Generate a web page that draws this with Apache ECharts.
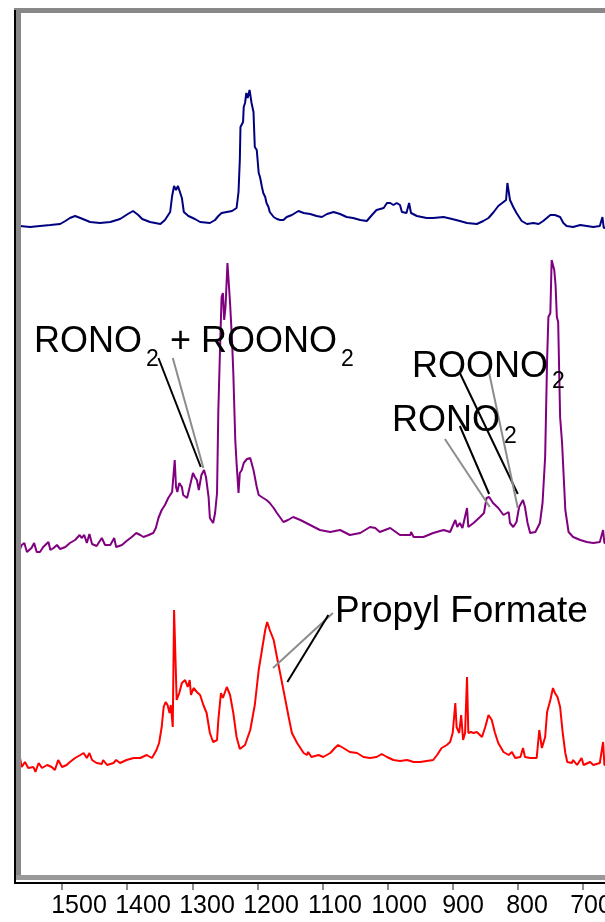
<!DOCTYPE html>
<html><head><meta charset="utf-8">
<script src="https://cdn.jsdelivr.net/npm/echarts@6.0.0/dist/echarts.min.js"></script>
<style>html,body{margin:0;padding:0;background:#fff}#c{width:605px;height:922px}</style>
</head><body><div id="c"></div>
<script>
// ---- tick labels (wavenumber, cm-1) ----
const tickLabels = ['1500','1400','1300','1200','1100','1000','900','800','700'];

// ---- vertical offsets of the stacked spectra (absorbance units) ----
const offsetNavy = 6.50;
const offsetPurple = 3.30;
const offsetRed = 1.10;

// ---- top spectrum (navy) ----
const wnNavy = [1565,1549,1534,1518,1503,1495,1488,1480,1472,1457,1442,1426,1411,1399,1391,1383,1377,1365,1349,1342,1334,1331,1328,1325,1322,1319,1316,1313,1306,1296,1288,1273,1265,1260,1255,1247,1239,1232,1229,1227,1226,1222,1221,1219,1217,1215,1212,1210,1209,1206,1204,1201,1198,1196,1193,1191,1188,1186,1183,1181,1175,1170,1165,1160,1155,1147,1137,1129,1119,1109,1101,1093,1083,1073,1063,1053,1042,1032,1024,1017,1006,1001,996,991,986,981,978,971,967,964,955,940,930,914,901,889,878,863,853,845,837,830,822,818,816,814,812,807,802,794,786,776,768,761,750,743,735,730,725,715,704,694,684,674,670,668,658];
const absNavy = [-0.01,-0.02,-0.01,0,0.01,0.04,0.07,0.09,0.07,0.03,0.02,0.03,0.06,0.11,0.14,0.10,0.06,0.03,0.01,0.05,0.13,0.29,0.39,0.35,0.39,0.37,0.27,0.13,0.09,0.06,0.03,0.02,0.05,0.09,0.12,0.13,0.14,0.17,0.33,0.65,0.98,1.03,1.18,1.22,1.32,1.27,1.35,1.33,1.22,1.13,0.78,0.75,0.52,0.48,0.38,0.32,0.28,0.22,0.18,0.13,0.08,0.06,0.05,0.05,0.08,0.10,0.14,0.12,0.11,0.09,0.08,0.11,0.13,0.11,0.08,0.07,0.05,0.04,0.10,0.15,0.17,0.22,0.22,0.20,0.22,0.20,0.13,0.12,0.22,0.12,0.09,0.07,0.07,0.08,0.06,0.04,0.02,0.01,0.04,0.07,0.13,0.19,0.23,0.25,0.42,0.42,0.25,0.18,0.12,0.04,0.01,0.02,0.01,0.04,0.10,0.10,0.08,0.02,-0.01,-0.02,0,-0.01,-0.02,-0.01,0.08,-0.03,-0.02];

// ---- middle spectrum (purple) ----
const wnPurple = [1565,1562,1558,1554,1547,1543,1539,1534,1529,1521,1518,1513,1508,1503,1495,1488,1480,1473,1470,1466,1462,1458,1454,1447,1439,1434,1426,1420,1417,1408,1401,1393,1386,1380,1375,1367,1360,1356,1352,1347,1342,1337,1331,1329,1327,1325,1323,1320,1316,1314,1308,1304,1299,1296,1293,1290,1286,1282,1279,1275,1273,1268,1265,1262,1260,1257,1255,1253,1251,1249,1246,1244,1242,1239,1237,1234,1232,1229,1227,1224,1221,1216,1211,1206,1201,1198,1191,1186,1181,1175,1170,1160,1153,1145,1134,1119,1104,1088,1073,1058,1042,1027,1019,1012,996,981,965,964,960,945,930,914,904,896,893,889,885,878,876,868,858,852,848,844,838,830,822,814,812,807,802,798,792,789,785,781,773,766,762,758,755,753,750,748,745,744,742,740,738,735,732,727,722,715,704,694,684,674,669,667,658];
const absPurple = [-0.05,0,0.02,-0.07,-0.03,0.02,-0.07,-0.07,-0.02,0.03,-0.05,-0.03,0,-0.04,-0.02,0.02,0.05,0.10,0.07,0.10,0.02,0.11,0.01,-0.01,0.07,0,0,0.07,-0.02,0,0.04,0.08,0.12,0.10,0.08,0.10,0.12,0.17,0.27,0.35,0.40,0.47,0.53,0.55,0.85,0.58,0.53,0.62,0.58,0.50,0.47,0.58,0.72,0.68,0.65,0.55,0.70,0.75,0.68,0.48,0.27,0.22,0.32,0.52,1.35,2.05,2.48,2.52,2.25,2.38,2.82,2.62,2.42,2.05,1.72,1.05,0.82,0.52,0.72,0.75,0.82,0.86,0.87,0.75,0.58,0.50,0.47,0.45,0.42,0.37,0.32,0.23,0.25,0.28,0.25,0.20,0.15,0.13,0.15,0.10,0.12,0.18,0.17,0.13,0.17,0.10,0.10,0.13,0.08,0.08,0.12,0.15,0.13,0.25,0.18,0.22,0.17,0.37,0.18,0.22,0.28,0.32,0.47,0.48,0.42,0.37,0.30,0.33,0.22,0.18,0.23,0.38,0.45,0.38,0.22,0.12,0.13,0.22,0.42,0.88,1.85,2.28,2.32,2.85,2.87,2.75,2.60,2.28,2.23,1.28,1.02,0.35,0.13,0.08,0.05,0.03,0.02,0.03,0.15,0.02,0.02];

// ---- bottom spectrum (red) ----
const wnRed = [1565,1562,1557,1552,1544,1541,1536,1531,1523,1516,1511,1506,1500,1493,1488,1480,1472,1467,1462,1458,1454,1447,1439,1437,1431,1421,1417,1411,1401,1390,1380,1370,1362,1359,1355,1351,1347,1344,1341,1338,1335,1333,1330,1328,1325,1324,1320,1316,1311,1307,1304,1302,1298,1293,1288,1283,1278,1273,1268,1262,1260,1256,1253,1250,1247,1242,1237,1232,1227,1219,1211,1204,1198,1193,1188,1185,1181,1175,1170,1163,1157,1152,1147,1139,1134,1129,1124,1122,1117,1106,1099,1088,1081,1076,1068,1058,1047,1037,1027,1017,1009,1001,991,981,970,960,950,940,930,924,917,909,904,900,896,894,890,887,884,881,878,876,872,868,863,855,850,845,840,835,830,822,814,809,804,796,792,789,781,771,767,763,758,755,750,746,743,739,735,731,727,724,717,715,709,702,699,689,684,674,669,667,658];
const absRed = [0.08,-0.02,0.03,-0.03,-0.02,-0.07,0.02,-0.03,0,-0.02,-0.05,0.05,-0.02,0,0.03,0.07,0.10,0.12,0.07,0.12,0.05,0.02,0.01,0.05,0,0.02,0.05,0.02,0.05,0.07,0.07,0.10,0.07,0.07,0.15,0.22,0.38,0.58,0.63,0.60,0.52,0.60,0.38,1.55,1.55,0.65,0.72,0.82,0.85,0.78,0.85,0.70,0.77,0.73,0.70,0.60,0.52,0.32,0.23,0.25,0.45,0.72,0.67,0.65,0.78,0.70,0.52,0.28,0.16,0.20,0.35,0.60,0.95,1.15,1.35,1.43,1.35,1.25,1.08,0.85,0.65,0.48,0.32,0.22,0.17,0.12,0.10,0.13,0.08,0.10,0.08,0.12,0.17,0.20,0.17,0.13,0.12,0.08,0.07,0.08,0.11,0.08,0.05,0.04,0.05,0.03,0.03,0.04,0.05,0.10,0.17,0.20,0.23,0.32,0.62,0.38,0.32,0.50,0.25,0.32,0.88,0.32,0.33,0.32,0.33,0.28,0.38,0.50,0.45,0.32,0.22,0.13,0.10,0.13,0.07,0.08,0.17,0.08,0.07,0.07,0.35,0.17,0.28,0.53,0.65,0.77,0.72,0.68,0.58,0.32,0.12,0.03,0.02,0.05,0,0.07,0,0.03,0,0.02,0.23,0,0.01];

// ---- annotation leader lines, in data coordinates [wavenumber, stacked absorbance] ----
const leaderWn  = [[1352,1287],[1330,1283],[912,843],[889,844],[889,800],[844,800],[1176,1084],[1154,1091]];
const leaderVal = [[5.17,4.08],[5.17,4.07],[4.36,3.68],[4.49,3.81],[5.02,3.81],[5.02,3.67],[2.07,2.62],[1.93,2.60]];
const leaderIsGrey = [false,true,true,false,false,true,true,false];

const FONT = '"Liberation Sans", Arial, Helvetica, sans-serif';
function pairs(wn, ab, off){ return wn.map((w,i)=>[w, +(ab[i]+off).toFixed(3)]); }

const series = [
  {name:'navy', data:pairs(wnNavy, absNavy, offsetNavy), color:'#000080'},
  {name:'purple', data:pairs(wnPurple, absPurple, offsetPurple), color:'#800080'},
  {name:'red', data:pairs(wnRed, absRed, offsetRed), color:'#ff0000'}
].map(s=>({type:'line', name:s.name, xAxisIndex:0, yAxisIndex:0, data:s.data, symbol:'none', showSymbol:false,
  lineStyle:{color:s.color, width:2}, itemStyle:{color:s.color}, z:3, silent:true}));

leaderWn.forEach((w,i)=>{
  series.push({type:'line', xAxisIndex:0, yAxisIndex:0, symbol:'none', showSymbol:false, silent:true, z:4,
    data:[[w[0], leaderVal[i][0]],[w[1], leaderVal[i][1]]],
    lineStyle:{color: leaderIsGrey[i] ? '#8c8c8c' : '#000000', width:2}});
});

const chart = echarts.init(document.getElementById('c'), null, {renderer:'canvas'});

function txt(x, y, s, size){
  return {type:'text', x:x, y:y, z:110, style:{text:s, fontSize:size, fontFamily:FONT, fill:'#000', align:'left', verticalAlign:'middle'}};
}

const option = {
  animation:false,
  backgroundColor:'#ffffff',
  grid:[
    {left:-3, width:651, top:13, height:862, containLabel:false, outerBoundsMode:'none'},
    {left:15, width:640, top:13, height:862, containLabel:false, outerBoundsMode:'none'}
  ],
  xAxis:[
    {gridIndex:0, type:'value', min:600, max:1600, interval:100, inverse:true, offset:8, position:'bottom',
     axisLine:{show:true, onZero:false, lineStyle:{color:'#000000', width:2}},
     axisTick:{show:true, inside:false, length:7, lineStyle:{color:'#8c8c8c', width:2}},
     axisLabel:{show:false}, splitLine:{show:false}},
    {gridIndex:1, type:'value', min:600, max:1600, interval:100, inverse:true, offset:8,
     axisLine:{show:false}, axisTick:{show:false}, splitLine:{show:false},
     axisLabel:{show:true, fontSize:25, fontFamily:FONT, color:'#000', margin:11, showMinLabel:false, showMaxLabel:false,
       formatter:v=> tickLabels.indexOf(String(v))>=0 ? String(v) : ''}}
  ],
  yAxis:[
    {gridIndex:0, type:'value', min:0, max:8.62, show:false},
    {gridIndex:1, type:'value', min:0, max:1, show:false}
  ],
  series:series,
  graphic:[
    {type:'rect', z:100, shape:{x:14, y:8, width:600, height:5}, style:{fill:'#888888'}},
    {type:'rect', z:100, shape:{x:16, y:13, width:5, height:867}, style:{fill:'#888888'}},
    {type:'rect', z:100, shape:{x:16, y:875, width:600, height:5}, style:{fill:'#999999'}},
    {type:'rect', z:101, shape:{x:0, y:878, width:14, height:10}, style:{fill:'#ffffff'}},
    {type:'rect', z:101, shape:{x:14, y:10, width:2, height:874}, style:{fill:'#000000'}},
    {type:'rect', z:101, shape:{x:14, y:882, width:600, height:2}, style:{fill:'#000000'}},
    txt(34, 342.5, 'RONO', 36),
    txt(146, 359.5, '2', 23),
    txt(170, 342.5, '+ ROONO', 36),
    txt(341, 359.5, '2', 23),
    txt(412, 367.5, 'ROONO', 36),
    txt(552, 381.5, '2', 23),
    txt(392, 421, 'RONO', 36),
    txt(504, 436.5, '2', 23),
    txt(335, 611.5, 'Propyl Formate', 37)
  ]
};
chart.setOption(option);
</script>
</body></html>
